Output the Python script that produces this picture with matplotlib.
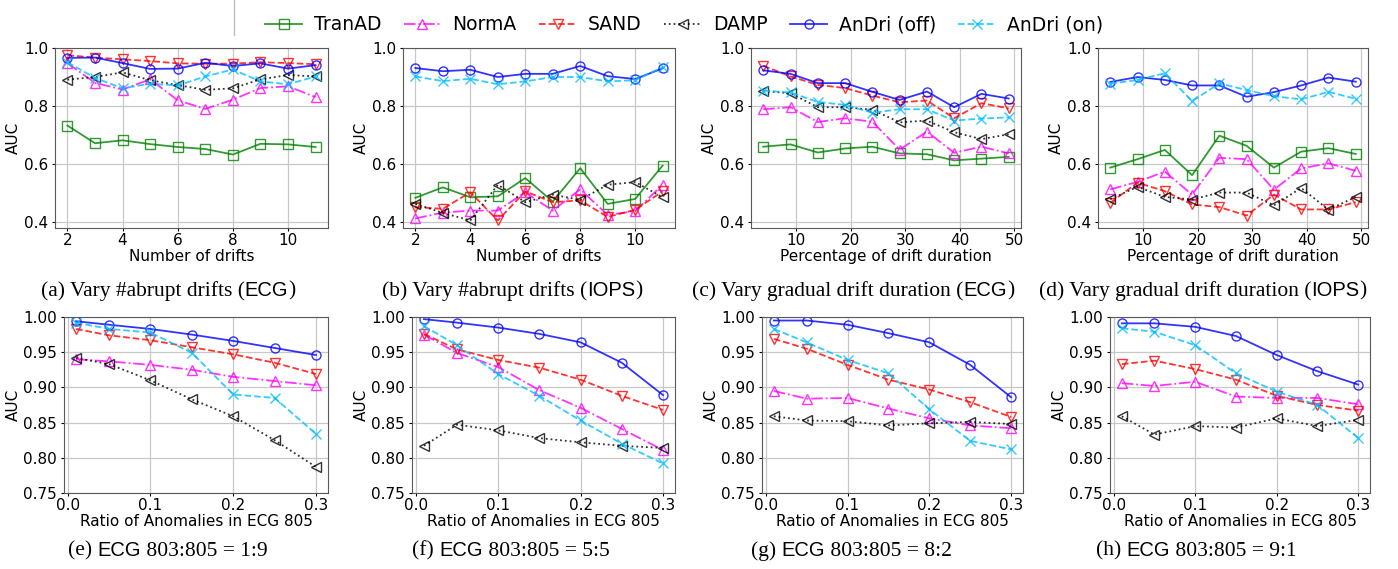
import matplotlib
matplotlib.use("Agg")
import matplotlib.pyplot as plt
from matplotlib.lines import Line2D

# methods and their look
methods = ["TranAD", "NormA", "SAND", "DAMP", "AnDri (off)", "AnDri (on)"]
colors = ["green", "magenta", "red", "black", "blue", "deepskyblue"]
styles = ["-", "-.", "--", ":", "-", "--"]
markers = ["s", "^", "v", "<", "o", "x"]

# x values
n_drifts = [2, 3, 4, 5, 6, 7, 8, 9, 10, 11]
drift_pct = [4, 9, 14, 19, 24, 29, 34, 39, 44, 49]
ratios = [0.01, 0.05, 0.1, 0.15, 0.2, 0.25, 0.3]

# (a) abrupt drifts, ECG
abrupt_ecg = {
    "TranAD": [0.733, 0.672, 0.682, 0.669, 0.659, 0.652, 0.633, 0.670, 0.668, 0.659],
    "NormA": [0.948, 0.880, 0.857, 0.892, 0.820, 0.790, 0.822, 0.862, 0.868, 0.831],
    "SAND": [0.975, 0.967, 0.961, 0.955, 0.947, 0.946, 0.946, 0.951, 0.948, 0.944],
    "DAMP": [0.891, 0.900, 0.916, 0.889, 0.872, 0.856, 0.861, 0.892, 0.907, 0.902],
    "AnDri (off)": [0.966, 0.967, 0.948, 0.928, 0.929, 0.949, 0.938, 0.947, 0.929, 0.941],
    "AnDri (on)": [0.951, 0.897, 0.861, 0.877, 0.871, 0.902, 0.926, 0.885, 0.875, 0.902],
}
# (b) abrupt drifts, IOPS
abrupt_iops = {
    "TranAD": [0.484, 0.520, 0.486, 0.489, 0.552, 0.471, 0.586, 0.463, 0.480, 0.595],
    "NormA": [0.413, 0.433, 0.440, 0.440, 0.503, 0.440, 0.513, 0.425, 0.438, 0.529],
    "SAND": [0.452, 0.446, 0.503, 0.406, 0.506, 0.469, 0.475, 0.418, 0.443, 0.506],
    "DAMP": [0.463, 0.432, 0.406, 0.529, 0.469, 0.495, 0.477, 0.529, 0.538, 0.486],
    "AnDri (off)": [0.931, 0.920, 0.925, 0.900, 0.911, 0.911, 0.938, 0.903, 0.893, 0.930],
    "AnDri (on)": [0.902, 0.886, 0.894, 0.875, 0.885, 0.900, 0.900, 0.885, 0.889, 0.934],
}
# (c) gradual drift duration, ECG
gradual_ecg = {
    "TranAD": [0.660, 0.668, 0.640, 0.654, 0.660, 0.637, 0.634, 0.613, 0.619, 0.625],
    "NormA": [0.789, 0.796, 0.745, 0.758, 0.746, 0.650, 0.712, 0.639, 0.660, 0.637],
    "SAND": [0.939, 0.902, 0.873, 0.862, 0.836, 0.813, 0.819, 0.758, 0.810, 0.792],
    "DAMP": [0.852, 0.844, 0.796, 0.796, 0.787, 0.744, 0.750, 0.710, 0.686, 0.703],
    "AnDri (off)": [0.923, 0.911, 0.879, 0.879, 0.849, 0.821, 0.850, 0.796, 0.842, 0.826],
    "AnDri (on)": [0.853, 0.847, 0.814, 0.804, 0.777, 0.789, 0.789, 0.750, 0.757, 0.761],
}
# (d) gradual drift duration, IOPS
gradual_iops = {
    "TranAD": [0.588, 0.617, 0.649, 0.562, 0.698, 0.663, 0.588, 0.643, 0.655, 0.635],
    "NormA": [0.513, 0.539, 0.574, 0.495, 0.622, 0.617, 0.512, 0.585, 0.603, 0.577],
    "SAND": [0.467, 0.536, 0.507, 0.461, 0.452, 0.423, 0.495, 0.444, 0.444, 0.469],
    "DAMP": [0.479, 0.522, 0.487, 0.478, 0.502, 0.502, 0.458, 0.518, 0.443, 0.487],
    "AnDri (off)": [0.883, 0.900, 0.890, 0.871, 0.871, 0.832, 0.848, 0.871, 0.898, 0.884],
    "AnDri (on)": [0.877, 0.890, 0.913, 0.817, 0.878, 0.855, 0.834, 0.823, 0.849, 0.825],
}
# (e)-(h) ratio of anomalies in ECG 805
mix_1_9 = {
    "NormA": [0.940, 0.937, 0.932, 0.925, 0.915, 0.909, 0.903],
    "SAND": [0.983, 0.974, 0.967, 0.957, 0.947, 0.935, 0.919],
    "DAMP": [0.942, 0.933, 0.910, 0.883, 0.859, 0.825, 0.787],
    "AnDri (off)": [0.994, 0.989, 0.983, 0.975, 0.966, 0.956, 0.946],
    "AnDri (on)": [0.992, 0.983, 0.978, 0.949, 0.890, 0.885, 0.834],
}
mix_5_5 = {
    "NormA": [0.975, 0.949, 0.929, 0.896, 0.871, 0.841, 0.811],
    "SAND": [0.976, 0.954, 0.939, 0.928, 0.911, 0.888, 0.868],
    "DAMP": [0.817, 0.847, 0.839, 0.828, 0.822, 0.817, 0.814],
    "AnDri (off)": [0.997, 0.992, 0.985, 0.976, 0.964, 0.935, 0.889],
    "AnDri (on)": [0.987, 0.960, 0.919, 0.888, 0.853, 0.820, 0.792],
}
mix_8_2 = {
    "NormA": [0.895, 0.884, 0.885, 0.870, 0.856, 0.846, 0.842],
    "SAND": [0.969, 0.955, 0.932, 0.911, 0.897, 0.879, 0.858],
    "DAMP": [0.859, 0.853, 0.852, 0.846, 0.849, 0.851, 0.848],
    "AnDri (off)": [0.995, 0.995, 0.989, 0.977, 0.964, 0.932, 0.886],
    "AnDri (on)": [0.983, 0.964, 0.939, 0.920, 0.869, 0.824, 0.812],
}
mix_9_1 = {
    "NormA": [0.906, 0.902, 0.908, 0.887, 0.885, 0.885, 0.876],
    "SAND": [0.933, 0.938, 0.926, 0.911, 0.888, 0.875, 0.867],
    "DAMP": [0.859, 0.833, 0.845, 0.843, 0.856, 0.845, 0.854],
    "AnDri (off)": [0.991, 0.991, 0.986, 0.973, 0.946, 0.923, 0.904],
    "AnDri (on)": [0.984, 0.979, 0.960, 0.920, 0.894, 0.875, 0.828],
}

W, H = 1398, 569
fig = plt.figure(figsize=(W / 100, H / 100), dpi=100)


def px_axes(x0, y0, x1, y1):
    # pixel box (top-left origin) -> axes
    return fig.add_axes([x0 / W, 1 - y1 / H, (x1 - x0) / W, (y1 - y0) / H])


def draw_panel(ax, xs, data, xlabel, ylim, yticks, xticks=None):
    for m, c, ls, mk in zip(methods, colors, styles, markers):
        if m not in data:
            continue
        ax.plot(xs, data[m], color=c, linestyle=ls, marker=mk, markersize=6.5,
                markerfacecolor="none", linewidth=1.3, alpha=0.8, label=m)
    ax.set_ylim(*ylim)
    ax.set_yticks(yticks)
    if xticks is not None:
        ax.set_xticks(xticks)
    ax.grid(True, color="#c8c8c8", linewidth=0.9)
    ax.set_axisbelow(True)
    ax.set_xlabel(xlabel, fontsize=11, labelpad=1)
    ax.set_ylabel("AUC", fontsize=11, labelpad=2)
    ax.tick_params(labelsize=11)
    ax.tick_params(axis="x", length=2.5, pad=1)
    ax.tick_params(axis="y", length=2.5, pad=2.5)
    for s in ax.spines.values():
        s.set_color("0.35")


top_boxes = [(55, 48, 328, 228), (403, 48, 675, 228), (751, 48, 1021, 228), (1098, 48, 1368, 228)]
bot_boxes = [(64, 317, 328, 493), (412, 317, 675, 493), (762, 317, 1023, 493), (1110, 317, 1370, 493)]

top_data = [(n_drifts, abrupt_ecg, "Number of drifts", [2, 4, 6, 8, 10]),
            (n_drifts, abrupt_iops, "Number of drifts", [2, 4, 6, 8, 10]),
            (drift_pct, gradual_ecg, "Percentage of drift duration", [10, 20, 30, 40, 50]),
            (drift_pct, gradual_iops, "Percentage of drift duration", [10, 20, 30, 40, 50])]
for box, (xs, d, xl, xt) in zip(top_boxes, top_data):
    ax = px_axes(*box)
    draw_panel(ax, xs, d, xl, (0.38, 1.0), [0.4, 0.6, 0.8, 1.0], xt)

for box, d in zip(bot_boxes, [mix_1_9, mix_5_5, mix_8_2, mix_9_1]):
    ax = px_axes(*box)
    draw_panel(ax, ratios, d, "Ratio of Anomalies in ECG 805", (0.75, 1.0),
               [0.75, 0.80, 0.85, 0.90, 0.95, 1.00], [0.0, 0.1, 0.2, 0.3])
    ax.yaxis.set_major_formatter(matplotlib.ticker.FormatStrFormatter("%.2f"))

# shared legend
handles = [Line2D([], [], color=c, linestyle=ls, marker=mk, markersize=6.5,
                  markerfacecolor="none", linewidth=1.3, alpha=0.8)
           for c, ls, mk in zip(colors, styles, markers)]
fig.legend(handles, methods, loc="center", bbox_to_anchor=(684 / W, 1 - 25 / H),
           ncol=6, frameon=False, fontsize=13.5, handlelength=2.0,
           handletextpad=0.6, columnspacing=1.2)
fig.add_artist(Line2D([234 / W, 234 / W], [1, 1 - 35 / H], color="0.75", linewidth=1))

# captions: serif text with a sans-serif dataset name
captions = [
    (168, 291, ["(a) Vary #abrupt drifts (", "ECG", ")"]),
    (512, 291, ["(b) Vary #abrupt drifts (", "IOPS", ")"]),
    (853, 291, ["(c) Vary gradual drift duration (", "ECG", ")"]),
    (1203, 291, ["(d) Vary gradual drift duration (", "IOPS", ")"]),
    (168, 551, ["(e) ", "ECG", " 803:805 = 1:9"]),
    (511, 551, ["(f) ", "ECG", " 803:805 = 5:5"]),
    (851, 551, ["(g) ", "ECG", " 803:805 = 8:2"]),
    (1196, 551, ["(h) ", "ECG", " 803:805 = 9:1"]),
]
renderer = fig.canvas.get_renderer()
for cx, cy, parts in captions:
    texts = []
    for i, p in enumerate(parts):
        fam = "Liberation Sans" if i == 1 else "Liberation Serif"
        fs = 14.5 if i == 1 else 15.5
        t = fig.text(0, 1 - cy / H, p, family=fam, fontsize=fs, va="center", ha="left")
        texts.append(t)
    widths = [t.get_window_extent(renderer).width for t in texts]
    x = cx - sum(widths) / 2
    for t, w in zip(texts, widths):
        t.set_x(x / W)
        x += w

fig.savefig("out.png", dpi=100)
